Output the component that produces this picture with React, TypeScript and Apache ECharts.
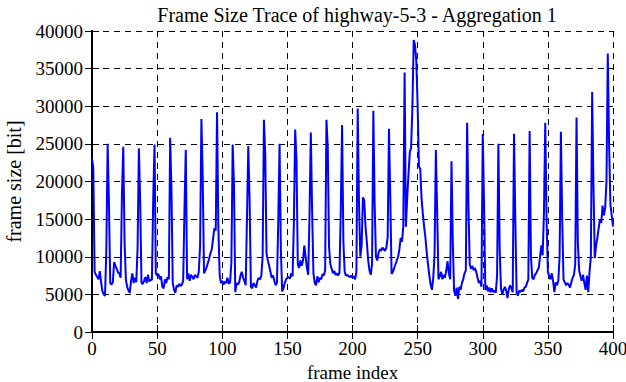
import React, { useEffect, useRef } from "react";
import * as echarts from "echarts";

const titleText = "Frame Size Trace of highway-5-3 - Aggregation 1";
const xAxisName = "frame index";
const yAxisName = "frame size [bit]";

// frame sizes (bit), frames 0..400
const frames0to99 = [
  23000, 21800, 8000, 7600, 7300, 7000, 8100, 6600, 5400, 5000,
  4800, 10800, 25000, 17200, 6500, 6300, 6600, 9300, 8800, 8400,
  7900, 7800, 7200, 18400, 24600, 12000, 7000, 6000, 5500, 5200,
  6800, 7800, 6500, 7200, 6600, 11200, 24400, 17300, 6500, 6400,
  6800, 7300, 6500, 7600, 6700, 7000, 6900, 17700, 24900, 7800,
  7500, 7700, 7000, 7400, 6000, 5800, 7000, 6500, 7300, 7000,
  25800, 19000, 6500, 5600, 5200, 6200, 6000, 6400, 6100, 6300,
  6800, 16300, 24200, 7000, 7800, 6800, 7600, 7300, 7000, 7600,
  7400, 7200, 8000, 11500, 28300, 20500, 7800, 8200, 8600, 9200,
  9800, 10500, 11000, 12500, 13800, 13500, 29200, 14000, 7600, 6500,
];
const frames100to199 = [
  6800, 6300, 6700, 6500, 7200, 6400, 6600, 9200, 24900, 19600,
  5300, 6500, 6300, 6600, 7500, 8000, 7200, 6800, 6200, 15300,
  24700, 17500, 6000, 5800, 6500, 6200, 5900, 6800, 7200, 7000,
  7500, 10000, 28200, 23700, 10400, 9500, 8800, 8000, 7200, 7500,
  6800, 6200, 6600, 14600, 25000, 11000, 5400, 5800, 6500, 7000,
  7200, 7300, 7100, 7800, 7400, 14600, 26900, 22800, 9000, 8500,
  9500, 8800, 9500, 11500, 10000, 8500, 7600, 15500, 26500, 16000,
  7800, 6500, 6200, 7400, 6600, 7200, 7000, 7700, 7500, 8200,
  28200, 24600, 11300, 9000, 8400, 7800, 8100, 7600, 7800, 7500,
  7900, 16100, 27500, 12000, 8000, 7500, 7600, 7400, 7300, 7500,
];
const frames200to299 = [
  7200, 7400, 7000, 8000, 29700, 17000, 10000, 11500, 17900, 17500,
  14000, 12000, 9600, 8200, 7600, 9000, 29400, 17000, 10000, 9500,
  10500, 11000, 10800, 11200, 11000, 10800, 11200, 12600, 27000, 18000,
  7700, 8000, 8500, 9000, 9500, 10000, 11000, 12500, 12000, 14000,
  34500, 14000, 17800, 21000, 23900, 24500, 30000, 38800, 38100, 36000,
  30100, 22000, 21700, 17800, 15700, 14000, 12500, 10500, 9000, 7500,
  6300, 5600, 7200, 10300, 24200, 16000, 7000, 7400, 8000, 7000,
  7600, 7200, 8200, 9400, 7800, 7000, 22700, 12000, 5500, 4800,
  5900, 4400, 6000, 5600, 6500, 7000, 7800, 8200, 27800, 17000,
  9000, 8400, 8800, 8200, 8500, 8000, 7200, 6500, 6800, 6000,
];
const frames300to400 = [
  26300, 17000, 5600, 6200, 5400, 5900, 5300, 5800, 5300, 5500,
  5200, 7500, 25000, 11000, 5800, 5000, 5600, 6000, 5500, 4500,
  5700, 6200, 5800, 5300, 26350, 15000, 5200, 4800, 5500, 5300,
  5600, 5400, 5900, 6000, 6500, 7000, 26700, 10000, 7200, 7000,
  7600, 7800, 8200, 8500, 10000, 11500, 10200, 16000, 27800, 15000,
  8000, 7400, 7000, 7800, 6800, 5300, 6600, 6200, 6800, 10000,
  26600, 15000, 7000, 6600, 6200, 6500, 6300, 5900, 6600, 7200,
  7600, 9000, 28500, 12000, 8200, 7400, 6800, 7600, 6500, 5600,
  7500, 5300, 8000, 10000, 31900, 19500, 9800, 11500, 12500, 13800,
  15000, 14500, 16800, 15500, 16500, 20000, 37000, 25000, 17000, 15500,
  14000,
];
const frameSizes = [...frames0to99, ...frames100to199, ...frames200to299, ...frames300to400];

const xMin = 0, xMax = 400, xStep = 50;
const yMin = 0, yMax = 40000, yStep = 5000;

const FONT = "Liberation Serif";

export default function App() {
  const ref = useRef<HTMLDivElement>(null);
  useEffect(() => {
    document.body.style.margin = "0";
    if (!ref.current) return;
    const chart = echarts.init(ref.current, undefined, { renderer: "svg" });
    const data = frameSizes.map((v, i) => [i, v]);
    const line = { show: true, lineStyle: { color: "#000", width: 2 } };
    const tick = { show: true, inside: true, length: 7, lineStyle: { color: "#000", width: 1 } };
    const split = { show: true, lineStyle: { color: "#000", width: 1, type: [6, 5] } };
    const lbl = { fontFamily: FONT, fontSize: 19, color: "#000" };
    const plain = (v: number) => String(v);
    chart.setOption({
      animation: false,
      backgroundColor: "#fff",
      textStyle: { fontFamily: FONT },
      title: {
        text: titleText,
        left: 352,
        textAlign: "center",
        top: 0,
        textStyle: { fontFamily: FONT, fontSize: 20, fontWeight: "normal", color: "#000" },
      },
      grid: { left: 92, right: 13, top: 31, bottom: 50, containLabel: false, outerBoundsMode: "none" },
      xAxis: [
        {
          type: "value", min: xMin, max: xMax, interval: xStep, position: "bottom",
          axisLine: line, axisTick: tick, splitLine: split,
          axisLabel: { ...lbl, margin: 7, formatter: plain },
          name: xAxisName, nameLocation: "middle", nameGap: 29,
          nameTextStyle: { ...lbl, fontSize: 19, lineHeight: 16 },
        },
        {
          type: "value", min: xMin, max: xMax, interval: xStep, position: "top",
          axisLine: line, axisTick: tick, splitLine: { show: false },
          axisLabel: { show: false },
        },
      ],
      yAxis: [
        {
          type: "value", min: yMin, max: yMax, interval: yStep, position: "left",
          axisLine: line, axisTick: tick, splitLine: split,
          axisLabel: { ...lbl, margin: 9, formatter: plain },
          name: yAxisName, nameLocation: "middle", nameGap: 68,
          nameTextStyle: { ...lbl, fontSize: 20 },
        },
        {
          type: "value", min: yMin, max: yMax, interval: yStep, position: "right",
          axisLine: line, axisTick: tick, splitLine: { show: false },
          axisLabel: { show: false },
        },
      ],
      series: [
        {
          type: "line",
          data,
          xAxisIndex: 0,
          yAxisIndex: 0,
          showSymbol: false,
          lineStyle: { color: "#0000ff", width: 2 },
          z: 5,
        },
      ],
    });
    return () => chart.dispose();
  }, []);
  return <div ref={ref} style={{ width: 626, height: 382 }} />;
}
